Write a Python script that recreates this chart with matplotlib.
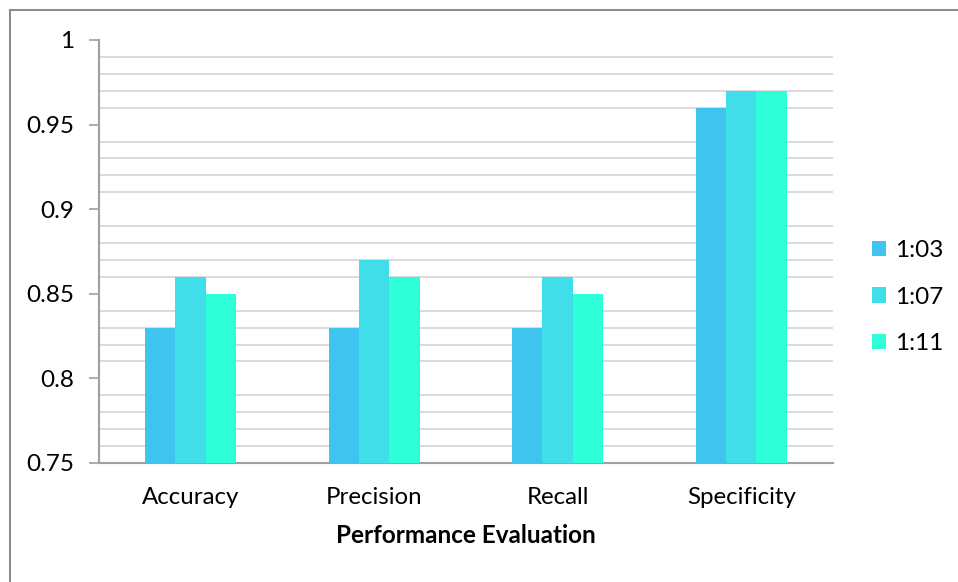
import numpy as np
import matplotlib
matplotlib.use("Agg")
import matplotlib.pyplot as plt
from matplotlib.lines import Line2D
from matplotlib.ticker import MultipleLocator

categories = ['Accuracy', 'Precision', 'Recall', 'Specificity']
series_names = ['1:03', '1:07', '1:11']
ratio_103 = [0.83, 0.83, 0.83, 0.96]
ratio_107 = [0.86, 0.87, 0.86, 0.97]
ratio_111 = [0.85, 0.86, 0.85, 0.97]
y_ticks = [0.75, 0.8, 0.85, 0.9, 0.95, 1.0]
y_tick_labels = ['0.75', '0.8', '0.85', '0.9', '0.95', '1']

colors = ['#3EC4EF', '#40DEE8', '#2EFFD9']

plt.rcParams['font.family'] = ['Lato', 'DejaVu Sans']

fig = plt.figure(figsize=(9.58, 5.82), dpi=100)
ax = fig.add_axes([0.1033, 0.2045, 0.7662, 0.7268])

x = np.arange(len(categories))
width = 0.166
for i, vals in enumerate([ratio_103, ratio_107, ratio_111]):
    ax.bar(x + (i - 1) * width, vals, width, color=colors[i],
           label=series_names[i], zorder=3)

ax.set_xlim(-0.5, len(categories) - 0.5)
ax.set_ylim(0.75, 1.0)
ax.set_yticks(y_ticks)
ax.set_yticklabels(y_tick_labels, fontsize=17.5)
ax.yaxis.set_minor_locator(MultipleLocator(0.01))
ax.tick_params(axis='y', which='minor', length=0)
ax.tick_params(axis='y', which='major', length=7, width=1.2, color='#A0A0A0', pad=11)
ax.set_xticks(x)
ax.set_xticklabels(categories, fontsize=17.3)
ax.tick_params(axis='x', length=0, pad=17)

# light minor grid only, the 0.05 steps stay blank
ax.grid(axis='y', which='minor', color='#D4D4D4', linewidth=1.2, zorder=0)
ax.grid(axis='y', which='major', visible=False)
ax.set_axisbelow(True)

for side in ['top', 'right']:
    ax.spines[side].set_visible(False)
for side in ['left', 'bottom']:
    ax.spines[side].set_color('#A0A0A0')
    ax.spines[side].set_linewidth(1.5)

ax.set_xlabel('Performance Evaluation', fontsize=17.5, fontweight='bold', labelpad=12)

ax.legend(loc='center left', bbox_to_anchor=(1.0, 0.392), frameon=False,
          fontsize=17.5, handlelength=0.6, handleheight=0.6, handletextpad=0.35,
          labelspacing=1.05, borderaxespad=1.2)

# chart frame: left and top edges
W, H = 958, 582
fig.add_artist(Line2D([10 / W, 10 / W], [0, 1 - 10 / H], color='#8C8C8C',
                      linewidth=1.5, transform=fig.transFigure))
fig.add_artist(Line2D([10 / W, 1], [1 - 10 / H, 1 - 10 / H], color='#8C8C8C',
                      linewidth=1.5, transform=fig.transFigure))

fig.savefig('out.png', dpi=100)
